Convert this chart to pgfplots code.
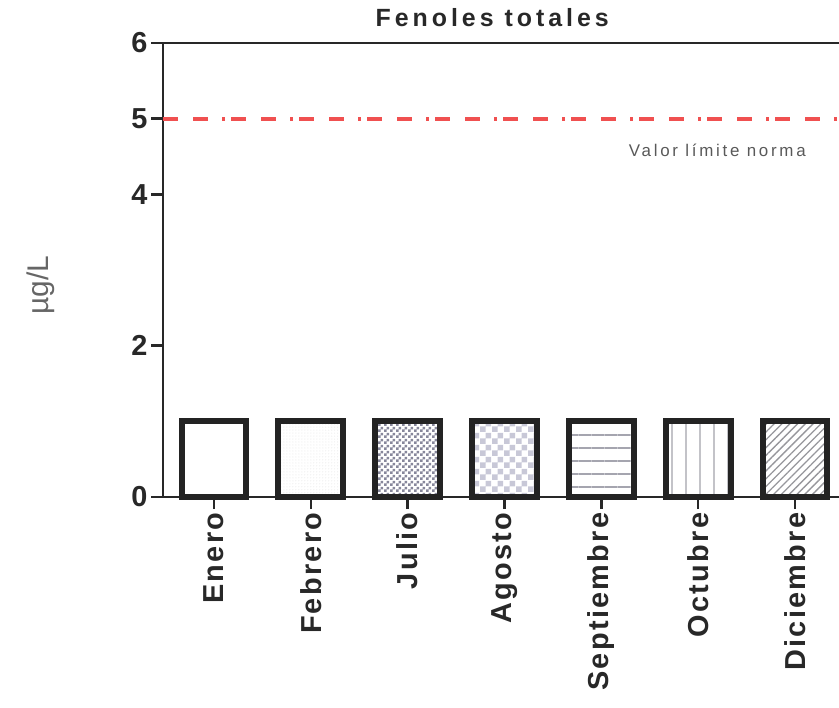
\documentclass[border=0pt]{standalone}
\usepackage{fontspec}
\setmainfont{Liberation Sans}
\newfontfamily\spaced[LetterSpace=8]{Liberation Sans}
\newfontfamily\wide[LetterSpace=16]{Liberation Sans}
\usepackage{pgfplots}
\pgfplotsset{compat=1.18}
\usetikzlibrary{patterns,patterns.meta}
\pgfdeclarepatternformonly{checkfine}{\pgfpointorigin}{\pgfpoint{6bp}{6bp}}{\pgfpoint{6bp}{6bp}}{%
 \pgfpathrectangle{\pgfpointorigin}{\pgfpoint{3bp}{3bp}}%
 \pgfpathrectangle{\pgfpoint{3bp}{3bp}}{\pgfpoint{3bp}{3bp}}%
 \pgfusepath{fill}}
\pgfdeclarepatternformonly{checkcoarse}{\pgfpointorigin}{\pgfpoint{12bp}{12bp}}{\pgfpoint{12bp}{12bp}}{%
 \pgfpathrectangle{\pgfpointorigin}{\pgfpoint{6bp}{6bp}}%
 \pgfpathrectangle{\pgfpoint{6bp}{6bp}}{\pgfpoint{6bp}{6bp}}%
 \pgfusepath{fill}}
\definecolor{axc}{RGB}{40,40,40}
\definecolor{barc}{RGB}{35,35,35}
\definecolor{refred}{RGB}{240,80,80}
\definecolor{julc}{RGB}{135,135,155}
\definecolor{agoc}{RGB}{200,200,215}
\definecolor{sepc}{RGB}{165,165,175}
\definecolor{octc}{RGB}{195,195,200}
\definecolor{dicc}{RGB}{150,150,155}
\begin{document}
\begin{tikzpicture}
\path[use as bounding box] (0,0) rectangle (839bp,708bp);
\begin{axis}[
 at={(163bp,211bp)}, anchor=south west,
 scale only axis, width=676bp, height=454bp,
 xmin=-0.527, xmax=6.455, ymin=0, ymax=6,
 clip=false,
 axis x line=bottom, axis y line=left,
 axis line style={-, line width=2.5bp, draw=axc},
 xtick={0,...,6},
 xticklabels={Enero,Febrero,Julio,Agosto,Septiembre,Octubre,Diciembre},
 ytick={0,2,4,5,6},
 tick align=outside, major tick length=12bp,
 tick style={line width=2.5bp, draw=axc},
 x tick label style={rotate=90, anchor=east, font=\fontsize{29}{30}\selectfont\spaced\bfseries, text=axc},
 y tick label style={font=\fontsize{29}{30}\selectfont\bfseries, text=axc},
 /pgf/number format/assume math mode=true,
 title={Fenoles totales},
 title style={at={(0.487,1)}, anchor=base, yshift=11bp, font=\fontsize{25}{28}\selectfont\wide\bfseries, text=axc},
 ylabel={µg/L},
 ylabel style={at={(axis description cs:-0.181,0.467)}, anchor=center, font=\fontsize{30}{32}\selectfont, text=black!60},
]
\addplot[ybar, bar width=0.67, bar shift=0pt, draw=barc, line width=6bp, fill=white] coordinates {(0,1)};
\addplot[ybar, bar width=0.67, bar shift=0pt, draw=barc, line width=6bp, pattern=dots, pattern color=black!12] coordinates {(1,1)};
\addplot[ybar, bar width=0.67, bar shift=0pt, draw=barc, line width=6bp, pattern=checkfine, pattern color=julc] coordinates {(2,1)};
\addplot[ybar, bar width=0.67, bar shift=0pt, draw=barc, line width=6bp, pattern=checkcoarse, pattern color=agoc] coordinates {(3,1)};
\addplot[ybar, bar width=0.67, bar shift=0pt, draw=barc, line width=6bp, pattern={Lines[angle=0,distance=13bp,line width=2bp]}, pattern color=sepc] coordinates {(4,1)};
\addplot[ybar, bar width=0.67, bar shift=0pt, draw=barc, line width=6bp, pattern={Lines[angle=90,distance=14bp,line width=2bp]}, pattern color=octc] coordinates {(5,1)};
\addplot[ybar, bar width=0.67, bar shift=0pt, draw=barc, line width=6bp, pattern={Lines[angle=45,distance=5.5bp,line width=1.3bp]}, pattern color=dicc] coordinates {(6,1)};
\addplot[refred, line width=4bp, dash pattern=on 15bp off 15bp on 15bp off 14bp on 3bp off 6bp] coordinates {(-0.527,5) (6.455,5)};
\draw[line width=2.5bp, axc] (rel axis cs:0,1) -- (rel axis cs:1,1);
\node[font=\fontsize{17}{18}\selectfont\wide, text=black!65] at (axis description cs:0.82,0.764) {Valor límite norma};
\end{axis}
\end{tikzpicture}
\end{document}
